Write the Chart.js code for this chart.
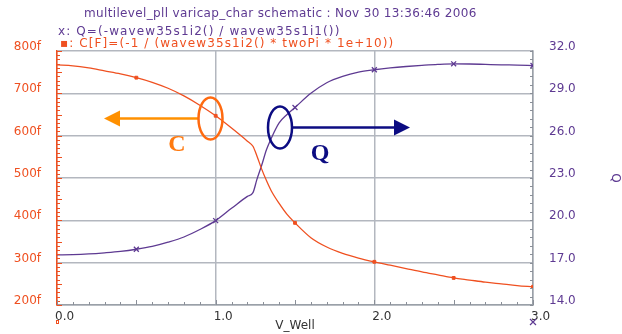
<!DOCTYPE html>
<html>
<head>
<meta charset="utf-8">
<script src="https://cdn.jsdelivr.net/npm/chart.js@4.4.1/dist/chart.umd.min.js"></script>
<style>
html,body{margin:0;padding:0;background:#fff;}
#wrap{position:relative;width:622px;height:334px;}
</style>
</head>
<body>
<div id="wrap"><canvas id="c" width="622" height="334"></canvas></div>
<script>
// ---- data ----
const vWell   = [0, 0.1, 0.2, 0.3, 0.4, 0.5, 0.6, 0.7, 0.8, 0.9, 1.0, 1.1, 1.2, 1.235, 1.26, 1.29, 1.32, 1.35, 1.4, 1.45, 1.5, 1.6, 1.7, 1.8, 1.9, 2.0, 2.1, 2.2, 2.3, 2.4, 2.5, 2.6, 2.7, 2.8, 2.9, 3.0];
const capF    = [767, 765, 760, 753, 746, 737, 726, 712, 694, 672, 647, 618, 587, 575, 552, 521, 494, 470, 440, 414, 394, 359, 337, 322, 311, 302, 294, 286, 278, 271, 264, 259, 254, 250, 246, 243]; // fF
const qValues = [17.55, 17.57, 17.62, 17.7, 17.8, 17.95, 18.15, 18.45, 18.82, 19.35, 19.98, 20.85, 21.7, 21.96, 22.9, 23.9, 25.0, 25.8, 26.9, 27.5, 28.0, 29.0, 29.75, 30.2, 30.5, 30.67, 30.8, 30.9, 30.98, 31.05, 31.09, 31.08, 31.05, 31.02, 31.0, 30.97];
const markerX = [0.5, 1.0, 1.5, 2.0, 2.5, 3.0];
const xTicks  = [0, 1, 2, 3];
const capTicks = [200, 300, 400, 500, 600, 700, 800];
const qTicks  = [14, 17, 20, 23, 26, 29, 32];

const titleText = "multilevel_pll varicap_char schematic : Nov 30 13:36:46 2006";
const legendQ   = "x: Q=(-wavew35s1i2() / wavew35s1i1())";
const legendC   = "\u25AA: C[F]=(-1 / (wavew35s1i2() * twoPi * 1e+10))";

const FONT = "'DejaVu Sans', sans-serif";
const ORANGE_RED = '#ef5020';
const PURPLE = '#5e3a92';
const GRID = '#b3b7bf';

const cPts = vWell.map((x,i)=>({x, y: capF[i]}));
const qPts = vWell.map((x,i)=>({x, y: qValues[i]}));
const isMark = x => markerX.some(m => Math.abs(m-x) < 1e-9);

const decor = {
  id:'decor',
  afterDraw(chart){
    const ctx = chart.ctx, ca = chart.chartArea;
    const xs = chart.scales.x, yl = chart.scales.y, yr = chart.scales.y1;
    ctx.save();
    // minor ticks
    ctx.lineWidth = 1;
    ctx.strokeStyle = ORANGE_RED;
    for (let v = 200; v <= 800; v += 10) {
      const py = Math.round(yl.getPixelForValue(v)) + 0.5;
      ctx.beginPath(); ctx.moveTo(ca.left, py); ctx.lineTo(ca.left + (v % 50 === 0 ? 5 : 3), py); ctx.stroke();
    }
    ctx.strokeStyle = '#8a8f98';
    for (let v = 14; v <= 32.001; v += 0.6) {
      const py = Math.round(yr.getPixelForValue(v)) + 0.5;
      ctx.beginPath(); ctx.moveTo(ca.right, py); ctx.lineTo(ca.right - 3, py); ctx.stroke();
    }
    for (let i = 0; i <= 30; i++) {
      const px = Math.round(xs.getPixelForValue(i/10)) + 0.5;
      ctx.beginPath(); ctx.moveTo(px, ca.bottom); ctx.lineTo(px, ca.bottom - (i % 5 === 0 ? 5 : 3)); ctx.stroke();
    }
    // header texts
    ctx.font = "12px " + FONT;
    ctx.textBaseline = 'middle';
    ctx.textAlign = 'left';
    ctx.fillStyle = PURPLE;
    ctx.letterSpacing = '0.35px';
    ctx.fillText(titleText, 84, 14);
    ctx.letterSpacing = '1.1px';
    ctx.fillText(legendQ, 58, 32);
    ctx.fillStyle = ORANGE_RED;
    ctx.fillText(legendC, 60, 44);
    ctx.letterSpacing = '0px';
    // small series symbols under the x axis ends
    ctx.strokeStyle = ORANGE_RED; ctx.lineWidth = 1;
    ctx.strokeRect(56.5, 320.5, 2, 3);
    ctx.strokeStyle = PURPLE; ctx.lineWidth = 1.2;
    ctx.beginPath(); ctx.moveTo(530, 319); ctx.lineTo(536, 325); ctx.moveTo(536, 319); ctx.lineTo(530, 325); ctx.stroke();
    // annotations: orange ellipse + arrow + C
    ctx.lineWidth = 2.5;
    ctx.strokeStyle = '#ff9000';
    ctx.beginPath(); ctx.moveTo(199, 118.5); ctx.lineTo(118, 118.5); ctx.stroke();
    ctx.fillStyle = '#ff9000';
    ctx.beginPath(); ctx.moveTo(104, 118.5); ctx.lineTo(120, 110.5); ctx.lineTo(120, 126.5); ctx.closePath(); ctx.fill();
    ctx.strokeStyle = '#ff6a10';
    ctx.beginPath(); ctx.ellipse(210.5, 118.5, 12, 21, 0, 0, Math.PI*2); ctx.stroke();
    ctx.fillStyle = '#ff7a10';
    ctx.font = "bold 24px 'Liberation Serif', serif";
    ctx.textAlign = 'center';
    ctx.fillText('C', 177, 145);
    // navy ellipse + arrow + Q
    ctx.strokeStyle = '#0c0c82';
    ctx.beginPath(); ctx.ellipse(280, 127.5, 12, 21, 0, 0, Math.PI*2); ctx.stroke();
    ctx.beginPath(); ctx.moveTo(292, 127.5); ctx.lineTo(396, 127.5); ctx.stroke();
    ctx.fillStyle = '#0c0c82';
    ctx.beginPath(); ctx.moveTo(410, 127.5); ctx.lineTo(394, 119.5); ctx.lineTo(394, 135.5); ctx.closePath(); ctx.fill();
    ctx.fillText('Q', 320, 154);
    ctx.restore();
  }
};

new Chart(document.getElementById('c'), {
  type: 'line',
  data: {
    datasets: [
      {
        label: 'C[F]',
        data: cPts,
        yAxisID: 'y',
        borderColor: ORANGE_RED,
        backgroundColor: ORANGE_RED,
        borderWidth: 1.3,
        cubicInterpolationMode: 'monotone',
        pointStyle: 'rect',
        pointRadius: ctx => isMark(vWell[ctx.dataIndex]) ? 2 : 0,
        pointBorderWidth: 1,
      },
      {
        label: 'Q',
        data: qPts,
        yAxisID: 'y1',
        borderColor: PURPLE,
        backgroundColor: PURPLE,
        borderWidth: 1.3,
        cubicInterpolationMode: 'monotone',
        pointStyle: 'crossRot',
        pointRadius: ctx => isMark(vWell[ctx.dataIndex]) ? 3.5 : 0,
        pointBorderWidth: 1.3,
      }
    ]
  },
  options: {
    responsive: false,
    animation: false,
    devicePixelRatio: 1,
    layout: { padding: { left: 0, right: 0, top: 51, bottom: 0 } },
    plugins: { legend: { display: false }, title: { display: false }, tooltip: { enabled: false } },
    scales: {
      x: {
        type: 'linear', min: 0, max: 3,
        afterBuildTicks: s => { s.ticks = xTicks.map(v => ({value: v})); },
        afterFit: s => { s.height = 29; },
        grid: { color: GRID, lineWidth: 1.5, drawTicks: false },
        border: { color: '#9aa0a8', width: 1.5 },
        ticks: { align: 'start', labelOffset: -2, padding: 5, color: '#333', font: { family: FONT, size: 12 },
                 callback: v => v.toFixed(1) },
        title: { display: true, text: 'V_Well', color: '#333', font: { family: FONT, size: 12 }, padding: { top: 0, bottom: 1 } }
      },
      y: {
        position: 'left', min: 200, max: 800,
        afterBuildTicks: s => { s.ticks = capTicks.map(v => ({value: v})); },
        afterFit: s => { s.width = 57; },
        grid: { color: GRID, lineWidth: 1.5, drawTicks: false },
        border: { color: ORANGE_RED, width: 1.5 },
        ticks: { padding: 16, labelOffset: -4, color: ORANGE_RED, font: { family: FONT, size: 12 },
                 callback: v => v + 'f' }
      },
      y1: {
        position: 'right', min: 14, max: 32,
        afterBuildTicks: s => { s.ticks = qTicks.map(v => ({value: v})); },
        afterFit: s => { s.width = 89; },
        grid: { display: false, drawTicks: false },
        border: { color: '#9aa0a8', width: 1.5 },
        ticks: { padding: 16, labelOffset: -4, color: PURPLE, font: { family: FONT, size: 12 },
                 callback: v => v.toFixed(1) },
        title: { display: true, text: 'Q', color: PURPLE, font: { family: FONT, size: 12 }, padding: { top: 0, bottom: 15 } }
      }
    }
  },
  plugins: [decor]
});
</script>
</body>
</html>
